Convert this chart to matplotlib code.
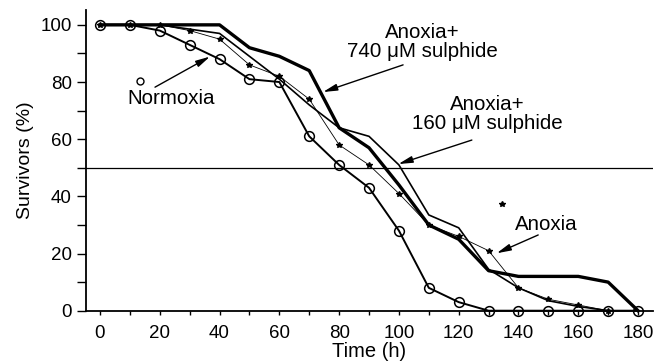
"""Survival curves under normoxia / anoxia / anoxia + sulphide."""

import matplotlib

matplotlib.use("Agg")
import matplotlib.pyplot as plt  # noqa: E402

plt.rcParams["font.family"] = ["Liberation Sans", "DejaVu Sans"]

# ------------------------------------------------------------------ data
hours = [0, 10, 20, 30, 40, 50, 60, 70, 80, 90, 100, 110, 120, 130, 140, 150, 160, 170, 180]

normoxia = [100, 100, 98, 93, 88, 81, 80, 61, 51, 43, 28, 8, 3, 0, 0, 0, 0, 0, 0]
anoxia = [100, 100, 100, 98, 95, 86, 82, 74, 58, 51, 41, 30, 26, 21, 8, 4, 2, 0]
sulph160 = [100, 100, 100, 98.5, 97, 89, 81, 72, 64, 61, 51, 33.5, 29, 14.5, 8, 3.5, 1.5, 0]
sulph740 = [100, 100, 100, 100, 100, 92, 89, 84, 64, 57, 44, 30, 25, 14, 12, 12, 12, 10, 0]

half_line = 50

# key symbols printed next to two of the labels
normoxia_key = (13.4, 80.2)
anoxia_key = (134.4, 37.4)

x_ticks = [0, 20, 40, 60, 80, 100, 120, 140, 160, 180]
y_ticks = [0, 20, 40, 60, 80, 100]

# label text, text centre, arrow tail, arrow head (data units)
labels = [
    ("Anoxia+\n740 \u03bcM sulphide", (107.7, 94.0), (101.4, 86.0), (74.6, 76.5)),
    ("Anoxia+\n160 \u03bcM sulphide", (129.5, 68.7), (124.4, 59.7), (99.8, 51.3)),
    ("Normoxia", (23.8, 74.4), (18.4, 78.2), (36.8, 88.9)),
    ("Anoxia", (149.2, 30.0), (146.6, 26.5), (132.7, 20.1)),
]

# ------------------------------------------------------------------ plot
fig = plt.figure(figsize=(6.57, 3.62), dpi=100)
ax = fig.add_axes([0.1309, 0.1417, 0.863, 0.8307])

ax.axhline(half_line, color="black", lw=0.9, zorder=1)

ax.plot(hours[:len(sulph740)], sulph740, color="black", lw=2.4,
        clip_on=False, zorder=3)
ax.plot(hours[:len(sulph160)], sulph160, color="black", lw=1.2,
        clip_on=False, zorder=3)
ax.plot(hours[:len(anoxia)], anoxia, color="black", lw=0.6, marker="*",
        ms=4, clip_on=False, zorder=4)
ax.plot(hours[:len(normoxia)], normoxia, color="black", lw=1.4, marker="o",
        ms=7, mfc="none", mew=1.1, clip_on=False, zorder=5)

ax.plot(*normoxia_key, marker="o", ms=5, mfc="none", mec="black", mew=1.0)
ax.plot(*anoxia_key, marker="*", ms=4, color="black")

for text, centre, tail, head in labels:
    ax.text(*centre, text, ha="center", va="center", fontsize=14.8,
            linespacing=1.0)
    ax.annotate("", xy=head, xytext=tail,
                arrowprops=dict(arrowstyle="-|>,head_length=0.85,head_width=0.2",
                                color="black", lw=1.0, shrinkA=0, shrinkB=0))

ax.set_xlim(-4.68, 185.0)
ax.set_ylim(0, 105.2)
ax.set_xticks(x_ticks)
ax.set_xticks(range(10, 180, 20), minor=True)
ax.set_yticks(y_ticks)
ax.set_yticks(range(10, 100, 20), minor=True)

for side in ("top", "right"):
    ax.spines[side].set_visible(False)
for side in ("left", "bottom"):
    ax.spines[side].set_linewidth(1.3)

ax.tick_params(axis="y", which="both", direction="out", length=6.2, width=1.0,
               labelsize=13.5, pad=4)
ax.tick_params(axis="x", which="both", direction="out", length=3.2, width=1.0,
               labelsize=13.5, pad=7)

ax.set_xlabel("Time (h)", fontsize=14.5, labelpad=0)
ax.set_ylabel("Survivors (%)", fontsize=14, labelpad=5)

fig.savefig("out.png", dpi=100)
